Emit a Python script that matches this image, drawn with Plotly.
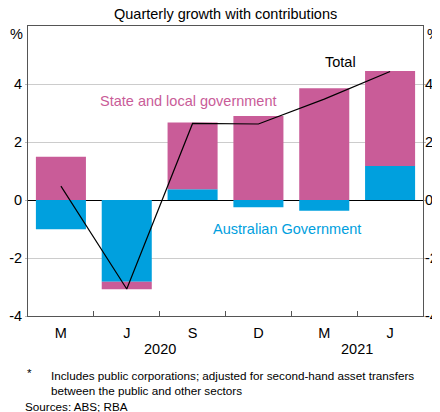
import plotly.graph_objects as go

# quarters, 2020 Q1 to 2021 Q2
quarters = ['M', 'J', 'S', 'D', 'M', 'J']
aus_gov = [-1.01, -2.82, 0.37, -0.25, -0.37, 1.17]
state_local = [1.49, -0.26, 2.30, 2.90, 3.85, 3.28]
total = [0.48, -3.07, 2.64, 2.62, 3.48, 4.43]
years = ['2020', '2021']
year_pos = [1.5, 4.5]
y_ticks = [-4, -2, 0, 2, 4]
y_labels = ['-4', '-2', '0', '2', '4']

BLUE = '#00a0de'
PINK = '#c95c98'
AXIS = '#555555'
FONT = 'Arial, Liberation Sans, sans-serif'
FS = 14.5

x = list(range(len(quarters)))

fig = go.Figure()

fig.add_trace(go.Bar(x=x, y=aus_gov, marker=dict(color=BLUE, line=dict(width=0)),
                     width=0.76, name='Australian Government'))
fig.add_trace(go.Bar(x=x, y=state_local, marker=dict(color=PINK, line=dict(width=0)),
                     width=0.76, name='State and local government'))
fig.add_trace(go.Scatter(x=x, y=total, mode='lines', line=dict(color='black', width=1.2),
                         name='Total'))

# text labels inside the plot
fig.add_annotation(x=1.94, y=3.41, text='State and local government', showarrow=False,
                   font=dict(color=PINK, size=FS, family=FONT))
fig.add_annotation(x=3.43, y=-1.0, text='Australian Government', showarrow=False,
                   font=dict(color=BLUE, size=FS, family=FONT))
fig.add_annotation(x=4.24, y=4.77, text='Total', showarrow=False,
                   font=dict(color='black', size=FS, family=FONT))

# right-hand tick labels (same scale as the left axis)
for val, lab in zip(y_ticks, y_labels):
    fig.add_annotation(x=1, y=val, xref='paper', yref='y', xanchor='left',
                       xshift=0, text=lab, showarrow=False,
                       font=dict(size=FS, family=FONT, color='black'))

# year labels under the quarter labels
for yr, pos in zip(years, year_pos):
    fig.add_annotation(x=pos, y=0, xref='x', yref='paper', yanchor='middle', yshift=-33,
                       text=yr, showarrow=False,
                       font=dict(size=FS, family=FONT, color='black'))

# % unit labels
fig.add_annotation(x=0, y=1, xref='paper', yref='paper', xanchor='right', yanchor='top',
                   xshift=-3, yshift=2, text='%', showarrow=False,
                   font=dict(size=FS, family=FONT, color='black'))
fig.add_annotation(x=1, y=1, xref='paper', yref='paper', xanchor='left', yanchor='top',
                   xshift=2, yshift=2, text='%', showarrow=False,
                   font=dict(size=FS, family=FONT, color='black'))

# title and footnotes
fig.add_annotation(x=0.5, y=1, xref='paper', yref='paper', yanchor='bottom', yshift=2,
                   text='Quarterly growth with contributions', showarrow=False,
                   font=dict(size=FS, family=FONT, color='black'))
fig.add_annotation(x=0, y=0, xref='paper', yref='paper', xanchor='left', yanchor='top',
                   xshift=-3, yshift=-48, text='*', showarrow=False,
                   font=dict(size=11.7, family=FONT, color='black'))
fig.add_annotation(x=0, y=0, xref='paper', yref='paper', xanchor='left', yanchor='top',
                   xshift=21, yshift=-51, align='left',
                   text='Includes public corporations; adjusted for second-hand asset transfers'
                        '<br>between the public and other sectors',
                   showarrow=False, font=dict(size=11.7, family=FONT, color='black'))
fig.add_annotation(x=0, y=0, xref='paper', yref='paper', xanchor='left', yanchor='top',
                   xshift=-5, yshift=-82, text='Sources: ABS; RBA', showarrow=False,
                   font=dict(size=11.7, family=FONT, color='black'))

# page body has an 8px margin, so the figure is 8px smaller than the window
fig.update_layout(
    width=432, height=404,
    margin=dict(l=20, r=17, t=18, b=96),
    barmode='relative',
    bargap=0.24,
    showlegend=False,
    plot_bgcolor='white',
    paper_bgcolor='white',
    font=dict(family=FONT, size=FS, color='black'),
    xaxis=dict(
        range=[-0.5, 5.5], tickvals=x, ticktext=quarters, ticks='',
        showgrid=False, zeroline=False, automargin=False,
        showline=True, linecolor=AXIS, linewidth=1, mirror=True,
        tickfont=dict(size=FS), ticklabelstandoff=4,
        minor=dict(tickvals=[0.5, 1.5, 2.5, 3.5, 4.5], ticks='inside',
                   ticklen=5, tickcolor=AXIS, showgrid=False),
    ),
    yaxis=dict(
        range=[-4, 6], tickvals=y_ticks, ticktext=y_labels,
        showgrid=True, gridcolor='#cccccc', automargin=False,
        zeroline=True, zerolinecolor='black', zerolinewidth=1,
        showline=True, linecolor=AXIS, linewidth=1, mirror='ticks',
        ticks='outside', ticklen=2, tickcolor='#bbbbbb',
        tickfont=dict(size=FS),
    ),
)

fig.write_html("out.html")
